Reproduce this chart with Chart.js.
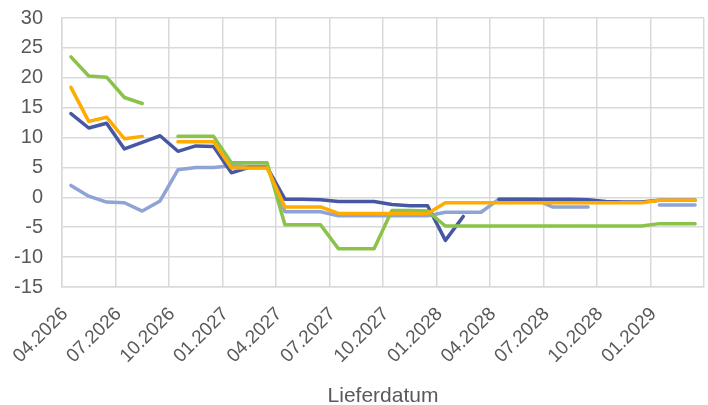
<!DOCTYPE html>
<html>
<head>
<meta charset="utf-8">
<script src="https://cdn.jsdelivr.net/npm/chart.js@4.4.1/dist/chart.umd.min.js"></script>
<style>
  body { margin: 0; background: #fff; }
</style>
</head>
<body>
<canvas id="chart" width="708" height="405"></canvas>
<script>
// months 04.2026 .. 03.2029
var months = ["04.2026","05.2026","06.2026","07.2026","08.2026","09.2026","10.2026","11.2026","12.2026",
              "01.2027","02.2027","03.2027","04.2027","05.2027","06.2027","07.2027","08.2027","09.2027",
              "10.2027","11.2027","12.2027","01.2028","02.2028","03.2028","04.2028","05.2028","06.2028",
              "07.2028","08.2028","09.2028","10.2028","11.2028","12.2028","01.2029","02.2029","03.2029"];

var darkBlue = [14.0, 11.6, 12.4, 8.1, 9.2, 10.3, 7.7, 8.6, 8.5, 4.1, 5.0, 5.0,
                -0.3, -0.3, -0.4, -0.7, -0.7, -0.7, -1.2, -1.4, -1.4, -7.2, -3.2, null,
                -0.3, -0.3, -0.3, -0.3, -0.3, -0.4, -0.7, -0.8, -0.8, -0.5, -0.5, -0.5];
var lightBlue = [2.0, 0.2, -0.8, -0.9, -2.3, -0.6, 4.6, 5.0, 5.0, 5.3, 5.2, 5.2,
                 -2.4, -2.4, -2.4, -3.1, -3.1, -3.1, -3.1, -3.1, -3.1, -2.5, -2.5, -2.5,
                 -0.3, -0.3, -0.3, -1.6, -1.6, -1.6, null, null, null, -1.3, -1.3, -1.3];
var green = [23.5, 20.3, 20.1, 16.7, 15.7, null, 10.2, 10.2, 10.2, 5.8, 5.8, 5.8,
             -4.6, -4.6, -4.6, -8.6, -8.6, -8.6, -2.2, -2.2, -2.3, -4.8, -4.8, -4.8,
             -4.8, -4.8, -4.8, -4.8, -4.8, -4.8, -4.8, -4.8, -4.8, -4.4, -4.4, -4.4];
var orange = [18.4, 12.7, 13.4, 9.8, 10.2, null, 9.3, 9.3, 9.3, 4.9, 4.9, 4.9,
              -1.6, -1.6, -1.6, -2.7, -2.7, -2.7, -2.7, -2.7, -2.7, -0.9, -0.9, -0.9,
              -0.9, -0.9, -0.9, -0.9, -0.9, -0.9, -0.9, -0.9, -0.9, -0.5, -0.5, -0.5];

// each month sits in the middle of its slot
function pts(arr) {
    return arr.map(function (v, i) { return { x: i + 0.5, y: v }; });
}

function line(data, color) {
    return {
        data: pts(data),
        borderColor: color,
        backgroundColor: color,
        borderWidth: 3.5,
        pointRadius: 0,
        tension: 0,
        spanGaps: false,
        borderJoinStyle: 'round',
        borderCapStyle: 'round'
    };
}

var font = "'Liberation Sans', Arial, sans-serif";
var grid = '#d9d9d9';

new Chart(document.getElementById('chart'), {
    type: 'line',
    data: {
        // first dataset is drawn on top
        datasets: [
            line(orange, '#FFAB00'),
            line(green, '#8BC34A'),
            line(darkBlue, '#4658A4'),
            line(lightBlue, '#8FA4D6')
        ]
    },
    options: {
        responsive: false,
        animation: false,
        layout: { padding: { top: 18, right: 4, left: 0, bottom: 0 } },
        plugins: { legend: { display: false }, tooltip: { enabled: false } },
        scales: {
            x: {
                type: 'linear',
                min: 0,
                max: 36,
                grid: { color: grid, lineWidth: 1.5, drawTicks: false },
                border: { color: grid, width: 1.5 },
                ticks: {
                    stepSize: 3,
                    autoSkip: false,
                    maxRotation: 45,
                    minRotation: 45,
                    padding: 16,
                    labelOffset: 3,
                    color: '#595959',
                    font: { family: font, size: 19 },
                    callback: function (v) { return v < 36 ? months[v] : ''; }
                },
                title: {
                    display: true,
                    text: 'Lieferdatum',
                    color: '#595959',
                    font: { family: font, size: 21, lineHeight: 0.85 },
                    padding: { top: 4, bottom: 0 }
                },
                afterFit: function (s) {
                    s.height = 118;
                    s.paddingLeft = 0;
                    s.paddingRight = 0;
                }
            },
            y: {
                min: -15,
                max: 30,
                grid: { color: grid, lineWidth: 1.5, drawTicks: false },
                border: { color: grid, width: 1.5 },
                ticks: {
                    stepSize: 5,
                    padding: 19,
                    color: '#595959',
                    font: { family: font, size: 20 }
                },
                afterFit: function (s) {
                    s.width = 62;
                    s.paddingTop = 0;
                    s.paddingBottom = 0;
                }
            }
        }
    }
});
</script>
</body>
</html>
